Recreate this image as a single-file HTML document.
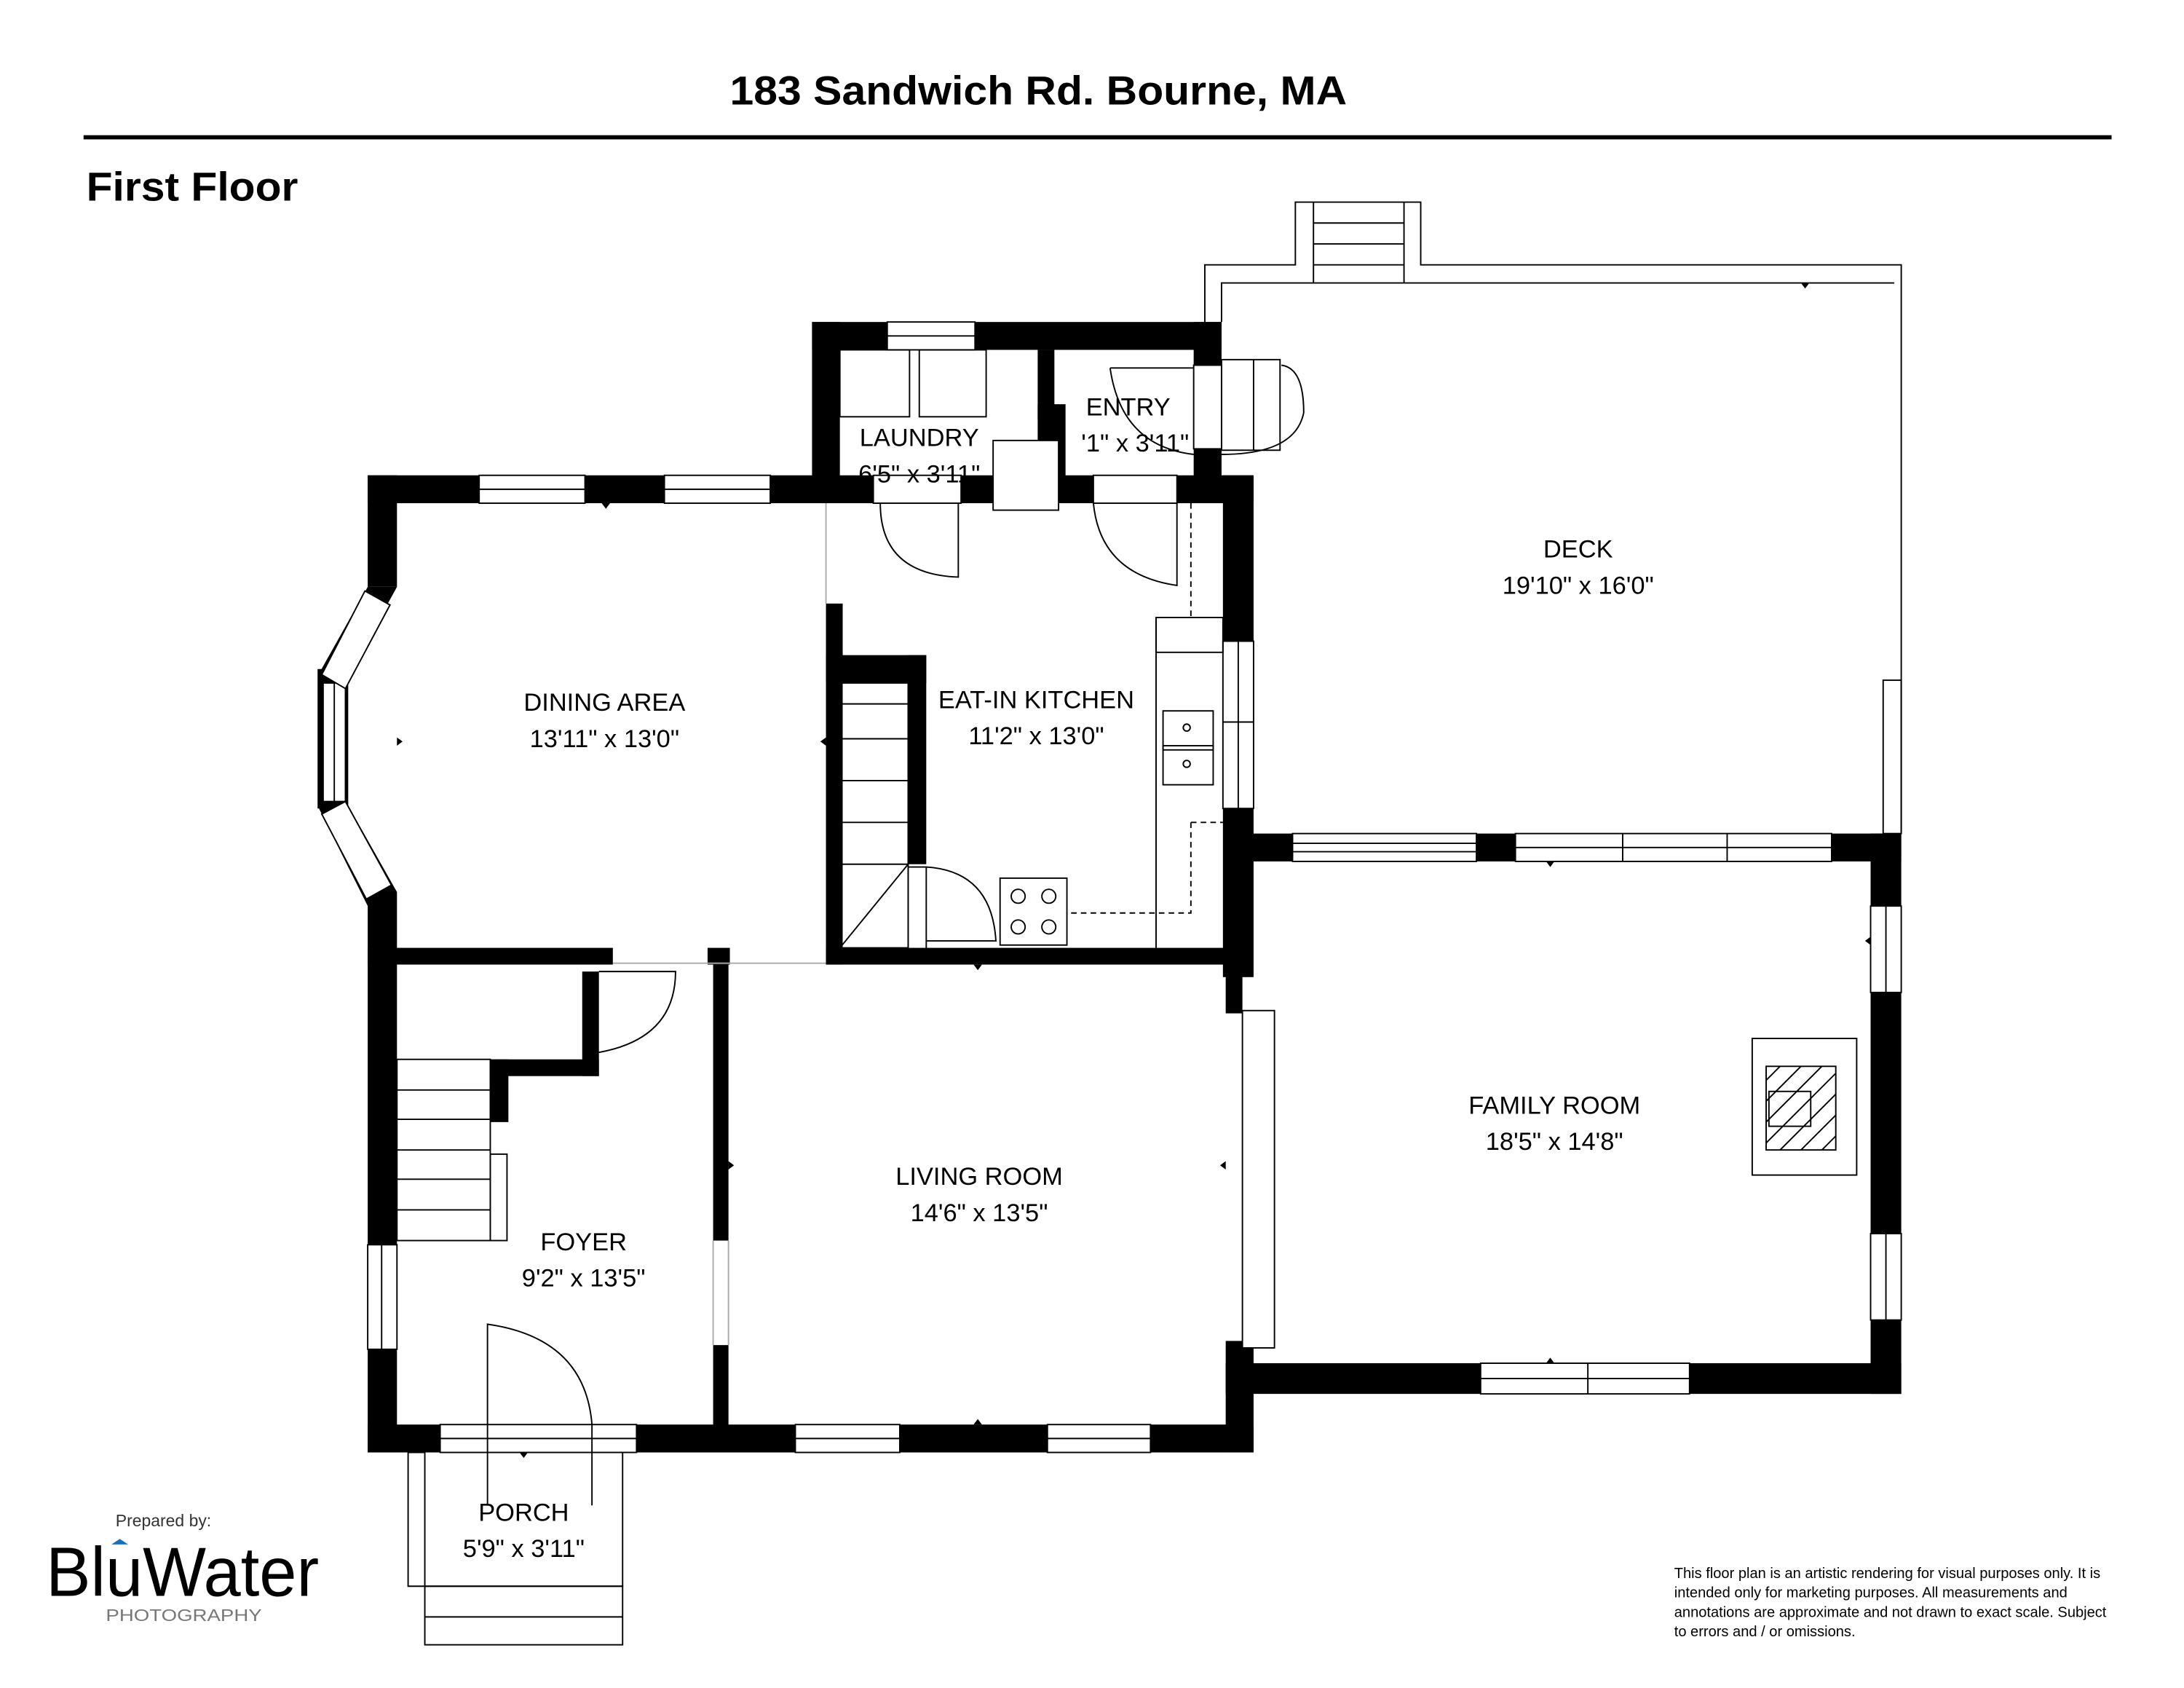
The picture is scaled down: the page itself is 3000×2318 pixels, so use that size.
<!DOCTYPE html>
<html><head><meta charset="utf-8"><style>
html,body{margin:0;padding:0;background:#fff}
svg{display:block}
text{font-family:"Liberation Sans",sans-serif}
</style></head><body>
<svg width="3000" height="2318" viewBox="0 0 1568 1211" preserveAspectRatio="none" xmlns="http://www.w3.org/2000/svg">
<rect width="1568" height="1211" fill="#fff"/>
<text x="524" y="75" font-size="29" font-weight="bold" textLength="443" lengthAdjust="spacingAndGlyphs">183 Sandwich Rd. Bourne, MA</text>
<rect x="60" y="97" width="1456" height="3" fill="#000"/>
<text x="62" y="144" font-size="29" font-weight="bold" textLength="152" lengthAdjust="spacingAndGlyphs">First Floor</text>

<g fill="none" stroke="#000" stroke-width="1">
<polyline points="865,231 865,190 930,190 930,145 1020,145 1020,190 1365,190 1365,598"/>
<polyline points="877,231 877,203 1360,203"/>
<line x1="943" y1="145" x2="943" y2="203"/><line x1="1008" y1="145" x2="1008" y2="203"/>
<line x1="943" y1="160" x2="1008" y2="160"/><line x1="943" y1="175" x2="1008" y2="175"/><line x1="943" y1="190" x2="1008" y2="190"/>
<rect x="1352" y="488" width="13" height="110"/>
<polyline points="305,1042 293,1042 293,1138 447,1138 447,1042"/>
<rect x="305" y="1138" width="142" height="42"/><line x1="305" y1="1160" x2="447" y2="1160"/>
<line x1="305" y1="1042" x2="305" y2="1138"/>
</g>

<g fill="#000">
<rect x="264" y="341" width="329" height="20"/>
<rect x="264" y="341" width="21" height="80"/>
<rect x="264" y="640" width="21" height="402"/>
<polygon points="264,421 285,421 250,485 228,485"/>
<polygon points="228,578 250,578 285,640 264,650"/>
<rect x="228" y="480" width="22" height="100"/>
<rect x="583" y="231" width="294" height="20"/>
<rect x="583" y="231" width="20" height="130"/>
<rect x="745" y="251" width="12" height="50"/>
<rect x="745" y="290" width="20" height="70"/>
<rect x="857" y="231" width="20" height="31"/>
<rect x="857" y="322" width="20" height="30"/>
<rect x="593" y="341" width="307" height="20"/>
<rect x="878" y="341" width="22" height="360"/>
<rect x="593" y="433" width="12" height="259"/>
<rect x="593" y="470" width="72" height="20"/>
<rect x="652" y="470" width="13" height="150"/>
<rect x="593" y="680" width="300" height="12"/>
<rect x="264" y="680" width="176" height="12"/>
<rect x="508" y="680" width="16" height="12"/>
<rect x="512" y="692" width="11" height="198"/>
<rect x="512" y="965" width="11" height="60"/>
<rect x="264" y="1022" width="636" height="20"/>
<rect x="352" y="760" width="78" height="12"/>
<rect x="352" y="760" width="13" height="45"/>
<rect x="418" y="697" width="12" height="75"/>
<rect x="880" y="690" width="12" height="37"/>
<rect x="880" y="962" width="20" height="80"/>
<rect x="880" y="598" width="485" height="20"/>
<rect x="880" y="598" width="12" height="100"/>
<rect x="1343" y="598" width="22" height="402"/>
<rect x="880" y="978" width="485" height="22"/>
</g>

<g fill="#fff" stroke="#000" stroke-width="1">
<rect x="344" y="341" width="76" height="20"/><line x1="344" y1="351" x2="420" y2="351"/>
<rect x="477" y="341" width="76" height="20"/><line x1="477" y1="351" x2="553" y2="351"/>
<rect x="637" y="231" width="63" height="20"/><line x1="637" y1="241" x2="700" y2="241"/>
<rect x="232" y="490" width="16" height="85"/><line x1="240" y1="490" x2="240" y2="575"/>
<polygon points="262,424 280,434 248,494 231,484"/>
<polygon points="231,584 248,575 281,635 263,645"/>
<rect x="878" y="460" width="22" height="120"/><line x1="889" y1="460" x2="889" y2="580"/><line x1="878" y1="518" x2="900" y2="518"/>
<rect x="264" y="893" width="21" height="75"/><line x1="274" y1="893" x2="274" y2="968"/>
<rect x="316" y="1022" width="141" height="20"/><line x1="316" y1="1032" x2="457" y2="1032"/>
<rect x="571" y="1022" width="75" height="20"/><line x1="571" y1="1032" x2="646" y2="1032"/>
<rect x="752" y="1022" width="74" height="20"/><line x1="752" y1="1032" x2="826" y2="1032"/>
<rect x="1088" y="598" width="227" height="20"/><line x1="1088" y1="608" x2="1315" y2="608"/><line x1="1165" y1="598" x2="1165" y2="618"/><line x1="1240" y1="598" x2="1240" y2="618"/>
<rect x="928" y="598" width="132" height="20"/><line x1="928" y1="605" x2="1060" y2="605"/><line x1="928" y1="611" x2="1060" y2="611"/>
<rect x="1343" y="650" width="22" height="62"/><line x1="1354" y1="650" x2="1354" y2="712"/>
<rect x="1343" y="885" width="22" height="62"/><line x1="1354" y1="885" x2="1354" y2="947"/>
<rect x="1063" y="978" width="150" height="22"/><line x1="1063" y1="989" x2="1213" y2="989"/><line x1="1140" y1="978" x2="1140" y2="1000"/>
<rect x="892" y="725" width="23" height="242"/>
<rect x="713" y="316" width="47" height="50"/>
<rect x="627" y="341" width="63" height="20"/>
<rect x="785" y="341" width="60" height="20"/>
<rect x="857" y="262" width="20" height="60"/>
</g>

<g fill="none" stroke="#000" stroke-width="1">
<path d="M632,361 Q632,412 688,414 L688,361"/>
<path d="M785,361 Q790,412 845,420 L845,361"/>
<path d="M797,264 L857,264 M797,264 Q805,320 857,326"/>
<path d="M877,326 Q930,326 936,296 Q936,264 920,262"/>
<rect x="877" y="258" width="42" height="65"/><line x1="900" y1="258" x2="900" y2="323"/>
<rect x="603" y="251" width="50" height="48"/><rect x="660" y="251" width="48" height="48"/>
<path d="M430,697 L485,697 Q485,745 430,755"/>
<path d="M350,1022 L350,950 Q420,960 425,1022"/>
<path d="M350,1022 L350,1080"/><path d="M425,1022 L425,1080"/>
<path d="M665,622 Q712,625 715,675 L665,675"/>
<rect x="652" y="622" width="13" height="60"/>
<rect x="603" y="490" width="49" height="190"/>
<line x1="603" y1="620" x2="652" y2="620"/><line x1="603" y1="680" x2="652" y2="620"/>
<line x1="603" y1="530" x2="652" y2="530"/><line x1="603" y1="560" x2="652" y2="560"/><line x1="603" y1="590" x2="652" y2="590"/><line x1="603" y1="505" x2="652" y2="505"/>
<rect x="285" y="760" width="67" height="130"/>
<line x1="285" y1="782" x2="352" y2="782"/><line x1="285" y1="803" x2="352" y2="803"/><line x1="285" y1="825" x2="352" y2="825"/><line x1="285" y1="846" x2="352" y2="846"/><line x1="285" y1="868" x2="352" y2="868"/>
<rect x="352" y="828" width="12" height="62"/>
<line x1="830" y1="443" x2="830" y2="680"/><rect x="830" y="443" width="48" height="25"/>
<rect x="835" y="510" width="36" height="28"/><rect x="835" y="535" width="36" height="28"/>
<circle cx="852" cy="522" r="2.5"/><circle cx="852" cy="548" r="2.5"/>
<rect x="718" y="630" width="48" height="48"/>
<circle cx="731" cy="643" r="5"/><circle cx="753" cy="643" r="5"/><circle cx="731" cy="665" r="5"/><circle cx="753" cy="665" r="5"/>
<path d="M855,361 L855,443 M855,590 L878,590 M855,590 L855,655 L766,655" stroke-dasharray="4,3"/>
<line x1="593" y1="361" x2="593" y2="433" stroke="#aaa"/>
<line x1="440" y1="691" x2="593" y2="691" stroke="#aaa"/>
<line x1="512" y1="890" x2="512" y2="965" stroke="#aaa"/><line x1="523" y1="890" x2="523" y2="965" stroke="#aaa"/>
<rect x="1258" y="745" width="75" height="98" fill="#fff"/>
<rect x="1268" y="765" width="50" height="60"/>
<rect x="1270" y="783" width="30" height="25"/>
<path d="M1268,775 L1278,765 M1268,790 L1293,765 M1268,805 L1308,765 M1268,820 L1318,770 M1278,825 L1318,785 M1293,825 L1318,800 M1308,825 L1318,815"/>
</g>

<g fill="#000">
<polygon points="435,365 432,361 438,361"/><polygon points="1296,207 1293,203 1299,203"/>
<polygon points="1113,622 1110,618 1116,618"/><polygon points="702,696 699,692 705,692"/>
<polygon points="376,1046 373,1042 379,1042"/><polygon points="702,1018 699,1022 705,1022"/>
<polygon points="1113,974 1110,978 1116,978"/><polygon points="289,532 285,529 285,535"/>
<polygon points="589,532 593,529 593,535"/><polygon points="876,836 880,833 880,839"/>
<polygon points="527,836 523,833 523,839"/><polygon points="1339,675 1343,672 1343,678"/>
<polygon points="896,675 892,672 892,678"/>
</g>

<g font-size="18" text-anchor="middle">
<text x="434" y="510">DINING AREA</text><text x="434" y="536">13'11" x 13'0"</text>
<text x="744" y="508">EAT-IN KITCHEN</text><text x="744" y="534">11'2" x 13'0"</text>
<text x="660" y="320">LAUNDRY</text><text x="660" y="346">6'5" x 3'11"</text>
<text x="810" y="298">ENTRY</text><text x="815" y="324">'1" x 3'11"</text>
<text x="1133" y="400">DECK</text><text x="1133" y="426">19'10" x 16'0"</text>
<text x="703" y="850">LIVING ROOM</text><text x="703" y="876">14'6" x 13'5"</text>
<text x="1116" y="799">FAMILY ROOM</text><text x="1116" y="825">18'5" x 14'8"</text>
<text x="419" y="897">FOYER</text><text x="419" y="923">9'2" x 13'5"</text>
<text x="376" y="1091">PORCH</text><text x="376" y="1117">5'9" x 3'11"</text>
</g>

<text x="83" y="1095" font-size="12" fill="#333">Prepared by:</text>
<text x="33" y="1145" font-size="50" textLength="196" lengthAdjust="spacingAndGlyphs">BluWater</text>
<polygon points="80,1108 86,1104 92,1108" fill="#1a6fb8"/>
<text x="76" y="1163" font-size="12" fill="#777" textLength="112" lengthAdjust="spacingAndGlyphs">PHOTOGRAPHY</text>

<g font-size="10.5">
<text x="1202" y="1132">This floor plan is an artistic rendering for visual purposes only. It is</text>
<text x="1202" y="1146">intended only for marketing purposes. All measurements and</text>
<text x="1202" y="1160">annotations are approximate and not drawn to exact scale. Subject</text>
<text x="1202" y="1174">to errors and / or omissions.</text>
</g>
</svg>
</body></html>
